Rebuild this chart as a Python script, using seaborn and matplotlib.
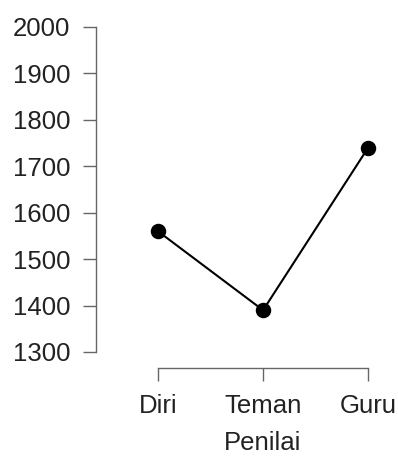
import seaborn as sns
import pandas as pd
import matplotlib.pyplot as plt

# Data
penilai = ['Diri', 'Teman', 'Guru']
skor = [1560, 1390, 1740]
y_ticks = [1300, 1400, 1500, 1600, 1700, 1800, 1900, 2000]

df = pd.DataFrame({'Penilai': penilai, 'Skor': skor})

sns.set_theme(style="ticks")
plt.rcParams['font.family'] = ['Liberation Sans', 'DejaVu Sans']

fig = plt.figure(figsize=(3.98, 4.59), dpi=100)
ax = fig.add_axes([96 / 398, 91 / 459, 290 / 398, 341 / 459])

sns.pointplot(
    data=df, x='Penilai', y='Skor', ax=ax,
    color='black', errorbar=None,
    markersize=10, linewidth=1.5,
)

# R-style axes: spines only over tick range
ax.set_xlim(-0.59, 2.17)
ax.set_ylim(1265.5, 2000)
ax.set_yticks(y_ticks)
for s in ['top', 'right']:
    ax.spines[s].set_visible(False)
ax.spines['left'].set_bounds(1300, 2000)
ax.spines['bottom'].set_bounds(0, 2)
for s in ['left', 'bottom']:
    ax.spines[s].set_color('#666666')
    ax.spines[s].set_linewidth(1.0)

ax.tick_params(axis='both', length=9.5, width=1.0, color='#666666',
               pad=9, labelsize=18.5, labelcolor='#222222')
ax.set_ylabel('')
ax.set_xlabel('Penilai', fontsize=18.5, color='#222222')
ax.xaxis.set_label_coords((263 - 96) / 290, -0.185)

plt.savefig('out.png', dpi=100)
